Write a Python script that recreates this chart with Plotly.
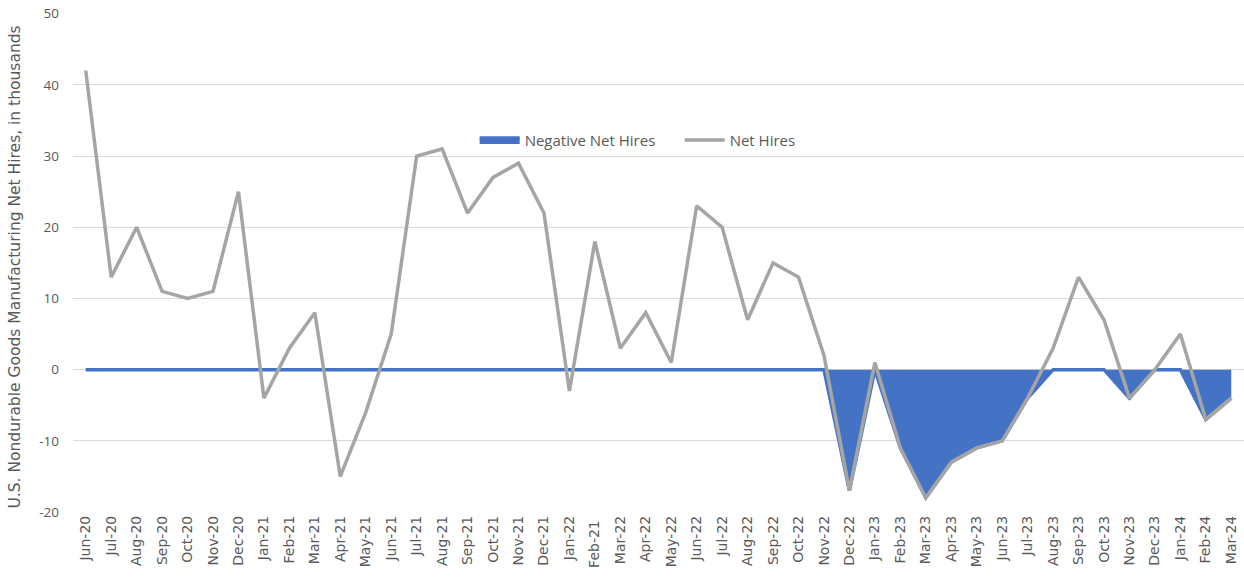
import plotly.graph_objects as go

months = ["Jun-20","Jul-20","Aug-20","Sep-20","Oct-20","Nov-20","Dec-20","Jan-21","Feb-21","Mar-21",
          "Apr-21","May-21","Jun-21","Jul-21","Aug-21","Sep-21","Oct-21","Nov-21","Dec-21","Jan-22",
          "Feb-21 ","Mar-22","Apr-22","May-22","Jun-22","Jul-22","Aug-22","Sep-22","Oct-22","Nov-22",
          "Dec-22","Jan-23","Feb-23","Mar-23","Apr-23","May-23","Jun-23","Jul-23","Aug-23","Sep-23",
          "Oct-23","Nov-23","Dec-23","Jan-24","Feb-24","Mar-24"]
net_hires = [42, 13, 20, 11, 10, 11, 25, -4, 3, 8,
             -15, -6, 5, 30, 31, 22, 27, 29, 22, -3,
             18, 3, 8, 1, 23, 20, 7, 15, 13, 2,
             -17, 1, -11, -18, -13, -11, -10, -4, 3, 13,
             7, -4, 0, 5, -7, -4]
negative_net_hires = [0, 0, 0, 0, 0, 0, 0, 0, 0, 0,
                      0, 0, 0, 0, 0, 0, 0, 0, 0, 0,
                      0, 0, 0, 0, 0, 0, 0, 0, 0, 0,
                      -17, 0, -11, -18, -13, -11, -10, -4, 0, 0,
                      0, -4, 0, 0, -7, -4]
y_ticks = [-20, -10, 0, 10, 20, 30, 40, 50]
y_tick_labels = ["-20", "-10", "0", "10", "20", "30", "40", "50"]
y_title = "U.S. Nondurable Goods Manufacturing Net Hires, in thousands"

fig = go.Figure()
fig.add_trace(go.Scatter(
    x=months, y=negative_net_hires, name="Negative Net Hires",
    mode="lines", fill="tozeroy", fillcolor="#4472C4",
    line=dict(color="#4472C4", width=3.5)))
fig.add_trace(go.Scatter(
    x=months, y=net_hires, name="Net Hires",
    mode="lines", line=dict(color="#A5A5A5", width=3.5)))

font_color = "#595959"
fig.update_layout(
    width=1244, height=577,
    margin=dict(l=73, r=0, t=13, b=65),
    paper_bgcolor="white", plot_bgcolor="white",
    font=dict(family="Open Sans, sans-serif", color=font_color, size=13),
    legend=dict(orientation="h", x=0.343, y=0.745, yanchor="middle", xanchor="left",
                bgcolor="rgba(0,0,0,0)", font=dict(size=15, color=font_color),
                itemwidth=40, entrywidth=150),
    showlegend=True,
    annotations=[dict(text=y_title, textangle=-90, xref="paper", yref="paper",
                      x=-0.0495, y=0.49, xanchor="center", yanchor="middle",
                      showarrow=False,
                      font=dict(family="DejaVu Sans", size=15.5, color=font_color))],
)
fig.update_xaxes(type="category", range=[-0.5, 45.5], tickangle=-90,
                 tickfont=dict(family="DejaVu Sans", size=14, color=font_color), showgrid=False,
                 showline=False, ticks="", zeroline=False, automargin=False)
fig.update_yaxes(range=[-20, 50.1], tickmode="array", tickvals=y_ticks, ticktext=y_tick_labels,
                 showgrid=True, gridcolor="#D9D9D9",
                 gridwidth=1, zeroline=False, showline=False, ticks="",
                 tickfont=dict(size=13.5, color=font_color), ticklabelstandoff=13,
                 ticklabeloverflow="allow",
                 automargin=False)

fig.write_html("out.html", config={"displayModeBar": False},
               post_script="document.body.style.margin='0';document.body.style.overflow='hidden';")
